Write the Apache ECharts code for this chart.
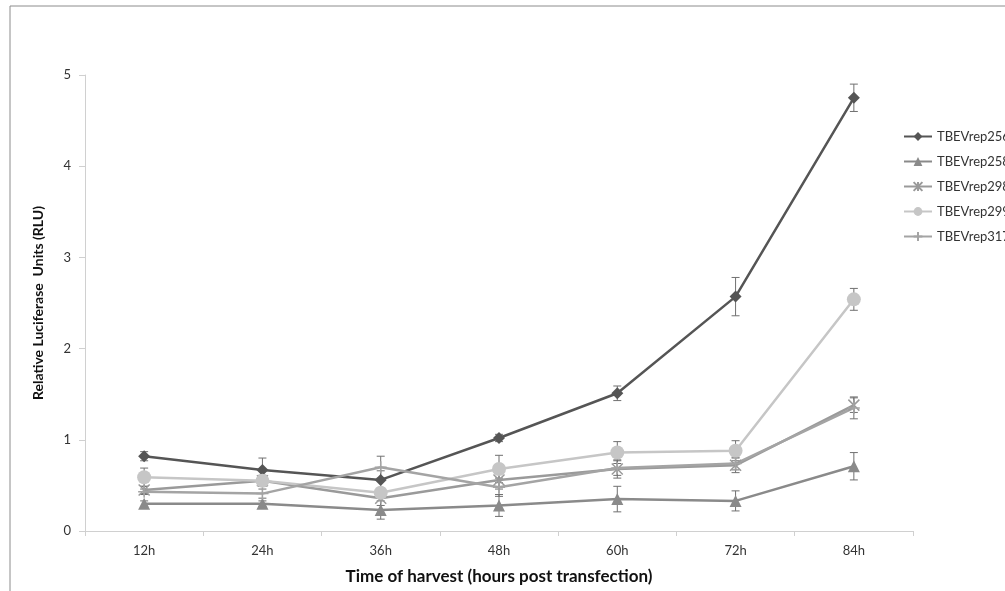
<!DOCTYPE html>
<html><head><meta charset="utf-8">
<script src="https://cdn.jsdelivr.net/npm/echarts@6/dist/echarts.min.js"></script>
<style>html,body{margin:0;padding:0;background:#fff}#c{width:1005px;height:591px}</style>
</head><body><div id="c"></div>
<script>
const categories = ['12h','24h','36h','48h','60h','72h','84h'];
const rep256 = [0.82, 0.67, 0.56, 1.02, 1.51, 2.57, 4.75];
const rep256Err = [0.05, 0.13, 0.10, 0.04, 0.08, 0.21, 0.15];
const rep258 = [0.30, 0.30, 0.23, 0.28, 0.35, 0.33, 0.71];
const rep258Err = [0.03, 0.03, 0.10, 0.12, 0.14, 0.11, 0.15];
const rep298 = [0.45, 0.55, 0.36, 0.56, 0.68, 0.72, 1.38];
const rep298Err = [0.04, 0.06, 0.08, 0.10, 0.10, 0.08, 0.08];
const rep299 = [0.59, 0.55, 0.42, 0.68, 0.86, 0.88, 2.54];
const rep299Err = [0.10, 0.06, 0.05, 0.15, 0.12, 0.11, 0.12];
const rep317 = [0.43, 0.41, 0.70, 0.48, 0.69, 0.74, 1.35];
const rep317Err = [0.03, 0.05, 0.12, 0.10, 0.08, 0.07, 0.12];
const yTicks = [0, 1, 2, 3, 4, 5];

const font = 'Lato, "Open Sans", sans-serif';
const seriesDefs = [
  {name:'TBEVrep256', data:rep256, err:rep256Err, color:'#555555', symbol:'diamond', size:12},
  {name:'TBEVrep258', data:rep258, err:rep258Err, color:'#8a8a8a', symbol:'triangle', size:12},
  {name:'TBEVrep298', data:rep298, err:rep298Err, color:'#9a9a9a', symbol:'path://M0,0L10,10M10,0L0,10M5,0L5,10', size:11, stroke:true},
  {name:'TBEVrep299', data:rep299, err:rep299Err, color:'#c6c6c6', symbol:'circle', size:14},
  {name:'TBEVrep317', data:rep317, err:rep317Err, color:'#a4a4a4', symbol:'path://M5,0L5,10M0,5L10,5', size:12, stroke:true}
];

const series = [];
seriesDefs.forEach(s => {
  series.push({
    name: s.name, type: 'line', data: s.data,
    symbol: s.symbol, symbolSize: s.size,
    lineStyle: {color: s.color, width: 2.5},
    itemStyle: s.stroke ? {color: s.color, borderColor: s.color, borderWidth: 1.5} : {color: s.color},
    emphasis: {disabled: true}, z: 3
  });
  series.push({
    name: s.name, type: 'custom',
    data: s.data.map((v, i) => [i, v - s.err[i], v + s.err[i]]),
    renderItem: function (params, api) {
      const lo = api.coord([api.value(0), api.value(1)]);
      const hi = api.coord([api.value(0), api.value(2)]);
      const w = 4;
      const st = {stroke: '#707070', lineWidth: 1};
      return {type: 'group', children: [
        {type: 'line', shape: {x1: lo[0], y1: lo[1], x2: hi[0], y2: hi[1]}, style: st},
        {type: 'line', shape: {x1: lo[0]-w, y1: lo[1], x2: lo[0]+w, y2: lo[1]}, style: st},
        {type: 'line', shape: {x1: hi[0]-w, y1: hi[1], x2: hi[0]+w, y2: hi[1]}, style: st}
      ]};
    },
    z: 2, silent: true
  });
});

const chart = echarts.init(document.getElementById('c'));
chart.setOption({
  animation: false,
  backgroundColor: '#fff',
  graphic: [{type: 'rect', shape: {x: 10, y: 6, width: 1200, height: 800},
    style: {fill: 'none', stroke: '#8c8c8c', lineWidth: 1}, silent: true}],
  grid: {left: 85, right: 92, top: 75, bottom: 60, containLabel: false, outerBoundsMode: 'none'},
  legend: {
    data: seriesDefs.map(s => s.name),
    orient: 'vertical', left: 898, top: 125, itemGap: 12,
    itemWidth: 28, itemHeight: 11,
    textStyle: {fontFamily: font, fontSize: 13, color: '#333'}
  },
  xAxis: {
    type: 'category', data: categories, boundaryGap: true,
    axisLine: {lineStyle: {color: '#d0d0d0', width: 1}},
    axisTick: {show: true, length: 5, lineStyle: {color: '#d0d0d0'}},
    axisLabel: {fontFamily: font, fontSize: 13, color: '#333', margin: 13},
    name: 'Time of harvest (hours post transfection)', nameLocation: 'middle', nameGap: 37,
    nameTextStyle: {fontFamily: font, fontSize: 17, fontWeight: 'bold', color: '#111'}
  },
  yAxis: {
    type: 'value', min: yTicks[0], max: yTicks[yTicks.length-1], interval: 1,
    axisLine: {show: true, lineStyle: {color: '#d0d0d0', width: 1}},
    axisTick: {show: true, length: 6, inside: false, lineStyle: {color: '#d0d0d0'}},
    splitLine: {show: false},
    axisLabel: {fontFamily: font, fontSize: 13, color: '#333', margin: 14},
    name: 'Relative Luciferase  Units (RLU)', nameLocation: 'middle', nameGap: 40, nameRotate: 90,
    nameTextStyle: {fontFamily: font, fontSize: 14, fontWeight: 'bold', color: '#111'}
  },
  series: series
});
</script></body></html>
